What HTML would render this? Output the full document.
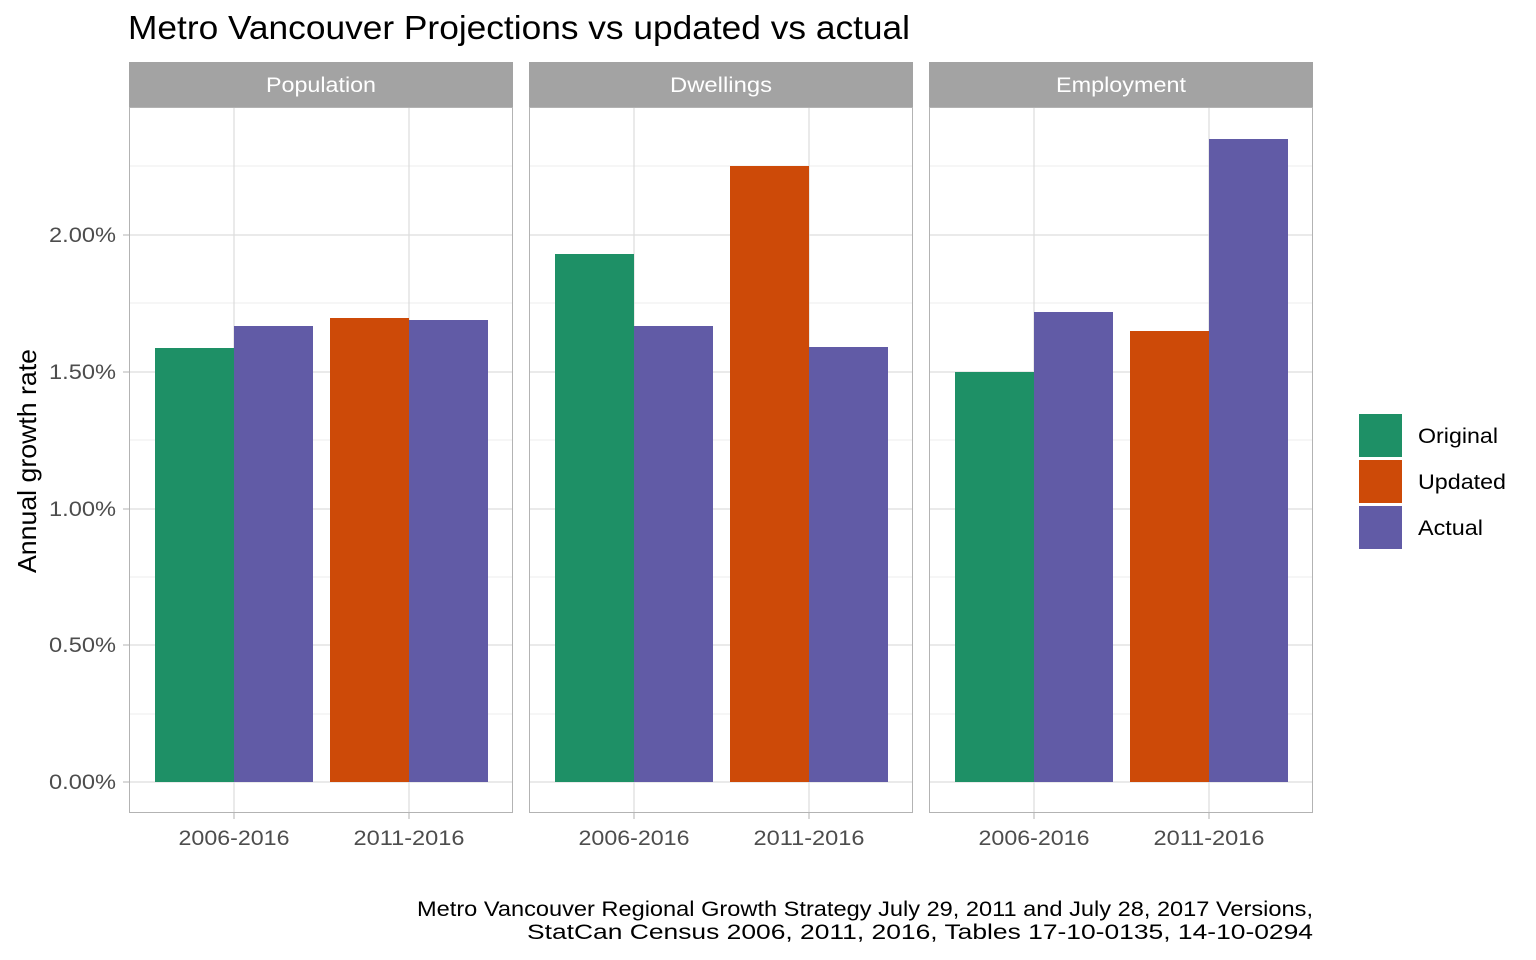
<!DOCTYPE html>
<html><head><meta charset="utf-8"><style>body{margin:0;background:#fff}svg{display:block}</style></head><body>
<svg width="1536" height="960" xmlns="http://www.w3.org/2000/svg" font-family="Liberation Sans, Arial, sans-serif">
<rect width="1536" height="960" fill="#fff"/>
<text x="128" y="39" font-size="33" fill="#000" textLength="782" lengthAdjust="spacingAndGlyphs">Metro Vancouver Projections vs updated vs actual</text>
<defs>
<g id="panelgrid">
<rect x="0" y="107" width="384" height="706" fill="#fff"/>
<g stroke="#ededed" stroke-width="1">
<line x1="0" x2="384" y1="714" y2="714"/><line x1="0" x2="384" y1="577" y2="577"/><line x1="0" x2="384" y1="440" y2="440"/><line x1="0" x2="384" y1="303" y2="303"/><line x1="0" x2="384" y1="166" y2="166"/>
</g>
<g stroke="#dedede" stroke-width="1.3">
<line x1="0" x2="384" y1="782" y2="782"/><line x1="0" x2="384" y1="645" y2="645"/><line x1="0" x2="384" y1="509" y2="509"/><line x1="0" x2="384" y1="372" y2="372"/><line x1="0" x2="384" y1="235" y2="235"/>
<line x1="105" x2="105" y1="107" y2="813"/><line x1="280" x2="280" y1="107" y2="813"/>
</g>
</g>
<g id="panelframe">
<rect x="0.5" y="107.5" width="383" height="705" fill="none" stroke="#b3b3b3" stroke-width="1"/>
<rect x="0" y="62" width="384" height="45" fill="#a3a3a3"/>
<line x1="105" x2="105" y1="813" y2="819" stroke="#b3b3b3"/><line x1="280" x2="280" y1="813" y2="819" stroke="#b3b3b3"/>
<text x="49.5" y="845" font-size="21" fill="#4d4d4d" textLength="111" lengthAdjust="spacingAndGlyphs">2006-2016</text>
<text x="224.5" y="845" font-size="21" fill="#4d4d4d" textLength="111" lengthAdjust="spacingAndGlyphs">2011-2016</text>
</g>
</defs>
<g transform="translate(129,0)"><use href="#panelgrid"/>
<rect x="26" y="348" width="79" height="434" fill="#1E9066"/>
<rect x="105" y="326" width="79" height="456" fill="#615BA6"/>
<rect x="201" y="318" width="79" height="464" fill="#CD4A08"/>
<rect x="280" y="320" width="79" height="462" fill="#615BA6"/>
<use href="#panelframe"/><text x="137" y="92" font-size="21" fill="#fff" textLength="110" lengthAdjust="spacingAndGlyphs">Population</text></g>
<g transform="translate(529,0)"><use href="#panelgrid"/>
<rect x="26" y="254" width="79" height="528" fill="#1E9066"/>
<rect x="105" y="326" width="79" height="456" fill="#615BA6"/>
<rect x="201" y="166" width="79" height="616" fill="#CD4A08"/>
<rect x="280" y="347" width="79" height="435" fill="#615BA6"/>
<use href="#panelframe"/><text x="141" y="92" font-size="21" fill="#fff" textLength="102" lengthAdjust="spacingAndGlyphs">Dwellings</text></g>
<g transform="translate(929,0)"><use href="#panelgrid"/>
<rect x="26" y="372" width="79" height="410" fill="#1E9066"/>
<rect x="105" y="312" width="79" height="470" fill="#615BA6"/>
<rect x="201" y="331" width="79" height="451" fill="#CD4A08"/>
<rect x="280" y="139" width="79" height="643" fill="#615BA6"/>
<use href="#panelframe"/><text x="127" y="92" font-size="21" fill="#fff" textLength="130" lengthAdjust="spacingAndGlyphs">Employment</text></g>
<g font-size="21" fill="#4d4d4d">
<text x="49" y="789" textLength="67" lengthAdjust="spacingAndGlyphs">0.00%</text><text x="49" y="652" textLength="67" lengthAdjust="spacingAndGlyphs">0.50%</text><text x="49" y="516" textLength="67" lengthAdjust="spacingAndGlyphs">1.00%</text><text x="49" y="379" textLength="67" lengthAdjust="spacingAndGlyphs">1.50%</text><text x="49" y="242" textLength="67" lengthAdjust="spacingAndGlyphs">2.00%</text>
</g>
<g stroke="#b3b3b3"><line x1="123" x2="129" y1="782" y2="782"/><line x1="123" x2="129" y1="645" y2="645"/><line x1="123" x2="129" y1="509" y2="509"/><line x1="123" x2="129" y1="372" y2="372"/><line x1="123" x2="129" y1="235" y2="235"/></g>
<text transform="translate(36,461) rotate(-90)" font-size="26" fill="#000" text-anchor="middle" textLength="224" lengthAdjust="spacingAndGlyphs">Annual growth rate</text>
<rect x="1359" y="414" width="43" height="43" fill="#1E9066"/>
<rect x="1359" y="460" width="43" height="43" fill="#CD4A08"/>
<rect x="1359" y="506" width="43" height="43" fill="#615BA6"/>
<g font-size="21" fill="#000"><text x="1418" y="443" textLength="80" lengthAdjust="spacingAndGlyphs">Original</text><text x="1418" y="489" textLength="88" lengthAdjust="spacingAndGlyphs">Updated</text><text x="1418" y="535" textLength="65" lengthAdjust="spacingAndGlyphs">Actual</text></g>
<g font-size="21" fill="#000"><text x="417" y="916" textLength="896" lengthAdjust="spacingAndGlyphs">Metro Vancouver Regional Growth Strategy July 29, 2011 and July 28, 2017 Versions,</text><text x="527" y="939" textLength="786" lengthAdjust="spacingAndGlyphs">StatCan Census 2006, 2011, 2016, Tables 17-10-0135, 14-10-0294</text></g>
</svg>
</body></html>
